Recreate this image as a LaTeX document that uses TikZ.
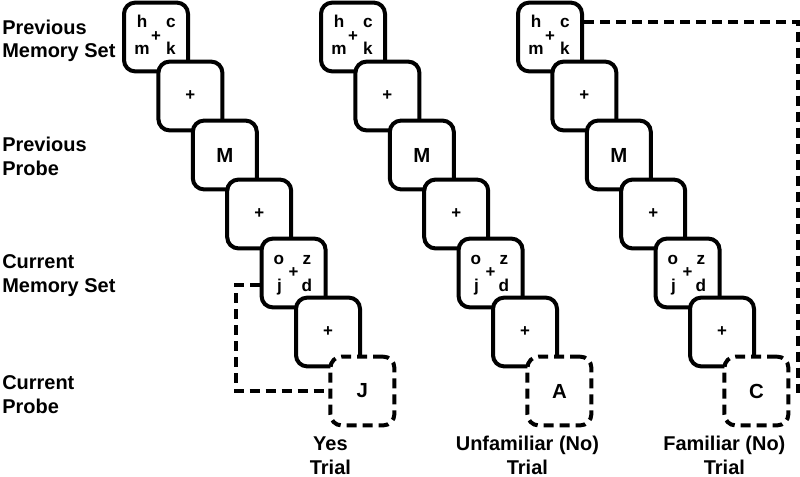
\documentclass[tikz,border=0pt]{standalone}
\usepackage{fontspec}
\setmainfont{Liberation Sans}
\begin{document}
\begin{tikzpicture}[
    screen/.style={draw, line width=0.1cm, rounded corners=0.28cm, fill=white,
        minimum width=1.6cm, minimum height=1.72cm, inner sep=0pt},
    probescreen/.style={screen, dash pattern=on 0.25cm off 0.15cm},
    letter/.style={font=\fontsize{12.2}{13}\selectfont\bfseries, inner sep=0pt, anchor=base},
    fixcross/.style={font=\fontsize{12}{13}\selectfont\bfseries},
    probetext/.style={font=\fontsize{14.5}{16}\selectfont\bfseries},
    rowlabel/.style={font=\fontsize{14.2}{17}\selectfont\bfseries, align=left, anchor=base west, inner sep=0pt},
    triallabel/.style={font=\fontsize{14.2}{17}\selectfont\bfseries, align=center, anchor=base, inner sep=0pt},
    link/.style={line width=0.1cm, dash pattern=on 0.25cm off 0.15cm}
]
    \useasboundingbox (0,0) rectangle (20,-11.925);

    % Row labels (placed at the baseline of their last line)
    \node[rowlabel] (prevset) at (0.05,-1.45) {Previous\\Memory Set};
    \node[rowlabel] (prevprobe) at (0.05,-4.375) {Previous\\Probe};
    \node[rowlabel] (curset) at (0.05,-7.3) {Current\\Memory Set};
    \node[rowlabel] (curprobe) at (0.05,-10.325) {Current\\Probe};

    % Three trial sequences
    \foreach \col/\x/\probe/\trial in {a/3.9/J/{Yes\\Trial}, b/8.825/A/{Unfamiliar (No)\\Trial}, c/13.75/C/{Familiar (No)\\Trial}}{
        \begin{scope}[shift={(\x,-0.925)}]
            % Previous memory set
            \node[screen] (\col1) at (0,0) {};
            \node[letter] (\col1h) at (-0.35,0.225) {h};
            \node[letter] (\col1c) at (0.37,0.225) {c};
            \node[fixcross] (\col1f) at (0,0) {+};
            \node[letter] (\col1m) at (-0.35,-0.45) {m};
            \node[letter] (\col1k) at (0.37,-0.45) {k};
            \node[screen, fixcross] (\col2) at (0.86,-1.475) {+};
            % Previous probe
            \node[screen, probetext] (\col3) at (1.72,-2.95) {M};
            \node[screen, fixcross] (\col4) at (2.58,-4.425) {+};
            % Current memory set
            \node[screen] (\col5) at (3.44,-5.9) {};
            \node[letter] (\col5o) at (3.07,-5.675) {o};
            \node[letter] (\col5z) at (3.77,-5.675) {z};
            \node[fixcross] (\col5f) at (3.44,-5.9) {+};
            \node[letter] (\col5j) at (3.09,-6.35) {j};
            \node[letter] (\col5d) at (3.77,-6.35) {d};
            \node[screen, fixcross] (\col6) at (4.30,-7.375) {+};
            % Current probe
            \node[probescreen, probetext] (\col7) at (5.16,-8.85) {\probe};
            \node[triallabel] (\col-trial) at (4.36,-10.94) {\trial};
        \end{scope}
    }

    % Memory links
    \draw[link] ([yshift=-0.3cm]a5.west) -- ++(-0.6,0) |- (a7.west);
    \draw[link] ([yshift=0.375cm]c1.east) -| ([xshift=0.2cm]c7.east) -- (c7.east);
\end{tikzpicture}
\end{document}
